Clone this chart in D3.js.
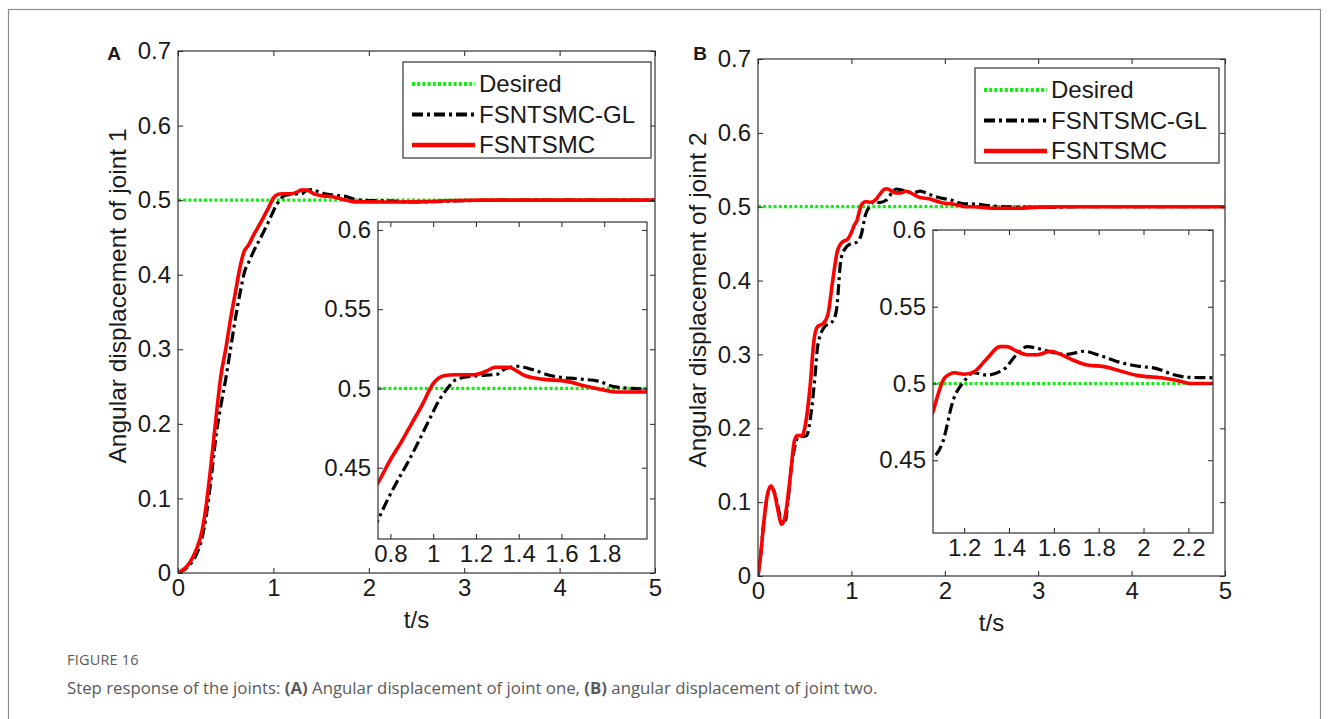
<!DOCTYPE html>
<html>
<head>
<meta charset="utf-8">
<script src="https://cdn.jsdelivr.net/npm/d3@7"></script>
<style>
  body { margin: 0; background: #fff; }
  svg text { font-family: "Liberation Sans", Arial, sans-serif; fill: #1a1a1a; }
  .caption text { font-family: "Open Sans", "Noto Sans", sans-serif; fill: #5a5a5a; }
</style>
</head>
<body>
<div id="chart-container"></div>
<script>
// ---- data ----
const legendLabels = ["Desired", "FSNTSMC-GL", "FSNTSMC"];
const desiredValue = 0.5;

// joint 1, [t, angle]
const joint1Gl = [[0,0],[0.05,0.003],[0.1,0.008],[0.15,0.015],[0.2,0.027],[0.25,0.046],[0.3,0.08],[0.35,0.13],[0.4,0.185],[0.45,0.225],[0.5,0.26],[0.55,0.3],[0.6,0.34],[0.65,0.375],[0.7,0.405],[0.742,0.417],[0.784,0.429],[0.83,0.441],[0.878,0.4525],[0.93,0.466],[0.988,0.482],[1.03,0.493],[1.059,0.4987],[1.113,0.506],[1.207,0.508],[1.302,0.509],[1.333,0.512],[1.396,0.514],[1.46,0.512],[1.553,0.508],[1.678,0.506],[1.772,0.5046],[1.85,0.501],[2.0,0.4995],[2.2,0.499],[2.5,0.4975],[2.8,0.4985],[3.1,0.4995],[3.5,0.5],[5,0.5]];
const joint1Fs = [[0,0],[0.05,0.004],[0.1,0.01],[0.15,0.02],[0.2,0.034],[0.25,0.055],[0.3,0.095],[0.35,0.15],[0.4,0.21],[0.45,0.265],[0.5,0.3],[0.55,0.34],[0.6,0.375],[0.65,0.41],[0.69,0.43],[0.74,0.44],[0.8,0.455],[0.85,0.466],[0.9,0.478],[0.95,0.49],[1.0,0.503],[1.05,0.508],[1.1,0.5086],[1.19,0.5086],[1.25,0.511],[1.29,0.5134],[1.35,0.5134],[1.43,0.508],[1.52,0.5057],[1.62,0.5046],[1.71,0.5015],[1.79,0.4992],[1.86,0.4977],[2.0,0.4977],[2.3,0.4975],[2.6,0.498],[2.9,0.4995],[3.2,0.5],[5,0.5]];

// joint 2, [t, angle]
const joint2Gl = [[0,0],[0.03,0.03],[0.06,0.07],[0.1,0.108],[0.14,0.12],[0.18,0.112],[0.22,0.09],[0.26,0.072],[0.29,0.073],[0.32,0.1],[0.36,0.15],[0.4,0.178],[0.43,0.188],[0.52,0.19],[0.57,0.222],[0.61,0.27],[0.64,0.312],[0.71,0.337],[0.8,0.345],[0.84,0.36],[0.89,0.43],[0.95,0.446],[1.0,0.45],[1.061,0.452],[1.105,0.462],[1.15,0.4887],[1.2,0.5015],[1.24,0.507],[1.3,0.5055],[1.375,0.509],[1.435,0.519],[1.48,0.524],[1.54,0.5224],[1.6,0.52],[1.66,0.519],[1.735,0.521],[1.81,0.518],[1.9,0.5136],[1.99,0.511],[2.05,0.51],[2.14,0.5055],[2.2,0.504],[2.31,0.5037],[2.5,0.501],[2.8,0.4995],[3.1,0.499],[3.4,0.5],[5,0.5]];
const joint2Fs = [[0,0],[0.03,0.03],[0.06,0.07],[0.1,0.11],[0.14,0.122],[0.18,0.11],[0.22,0.085],[0.25,0.07],[0.28,0.075],[0.3,0.088],[0.35,0.14],[0.39,0.183],[0.42,0.19],[0.47,0.19],[0.52,0.215],[0.56,0.26],[0.6,0.32],[0.64,0.338],[0.7,0.342],[0.75,0.355],[0.8,0.4],[0.85,0.44],[0.9,0.452],[0.96,0.456],[1.0,0.465],[1.03,0.475],[1.061,0.4817],[1.083,0.4927],[1.113,0.5037],[1.158,0.507],[1.2,0.506],[1.248,0.508],[1.3,0.516],[1.36,0.524],[1.39,0.524],[1.435,0.521],[1.48,0.5187],[1.525,0.5187],[1.586,0.521],[1.63,0.519],[1.69,0.515],[1.75,0.512],[1.824,0.511],[1.9,0.508],[1.97,0.5053],[2.08,0.5037],[2.165,0.5015],[2.21,0.5],[2.31,0.5],[2.5,0.498],[2.8,0.498],[3.0,0.4995],[3.3,0.5],[5,0.5]];

// tick values
const mainXTicks = [0, 1, 2, 3, 4, 5];
const mainYTicks = [0, 0.1, 0.2, 0.3, 0.4, 0.5, 0.6, 0.7];
const inset1XTicks = [0.8, 1, 1.2, 1.4, 1.6, 1.8];
const inset2XTicks = [1.2, 1.4, 1.6, 1.8, 2, 2.2];
const insetYTicks = [0.45, 0.5, 0.55, 0.6];

// ---- layout ----
const width = 1330, height = 719;
const svg = d3.select("#chart-container").append("svg")
  .attr("width", width).attr("height", height);

// outer figure frame
svg.append("rect")
  .attr("x", 8.5).attr("y", 9.5)
  .attr("width", 1312).attr("height", 730)
  .attr("fill", "none").attr("stroke", "#8c8c8c").attr("stroke-width", 1.2);

const panels = [
  {
    tag: "A", ylabel: "Angular displacement of joint 1",
    gl: joint1Gl, fs: joint1Fs,
    main: { left: 178, right: 655, top: 51, bottom: 573 },
    inset: { left: 378, right: 647, top: 222, bottom: 539, xd: [0.742, 2.0], yd: [0.405, 0.605], xt: inset1XTicks },
    legend: { x: 403, y: 62, w: 248, h: 96 },
    tagPos: [114, 53], ylabelPos: [117, 296]
  },
  {
    tag: "B", ylabel: "Angular displacement of joint 2",
    gl: joint2Gl, fs: joint2Fs,
    main: { left: 758, right: 1225, top: 59, bottom: 576 },
    inset: { left: 933, right: 1213, top: 230, bottom: 533, xd: [1.061, 2.31], yd: [0.4026, 0.6], xt: inset2XTicks },
    legend: { x: 975, y: 68, w: 244, h: 95 },
    tagPos: [700, 53], ylabelPos: [697, 300]
  }
];

const styles = [
  { color: "#11ee11", width: 3.2, dash: "3,2.2" },
  { color: "#000000", width: 3.2, dash: "11,4,3,4" },
  { color: "#ff0000", width: 3.6, dash: null }
];

const fmt = d3.format("~g");
const tickFont = "24px";

function drawAxes(g, x, y, xTicks, yTicks, clipId, series) {
  const [x0, x1] = x.range();
  const [y0, y1] = y.range();
  // white background (inset covers main plot)
  g.append("rect").attr("x", x0).attr("y", y1).attr("width", x1 - x0).attr("height", y0 - y1)
    .attr("fill", "#fff");

  g.append("defs").append("clipPath").attr("id", clipId)
    .append("rect").attr("x", x0).attr("y", y1).attr("width", x1 - x0).attr("height", y0 - y1);

  const lines = g.append("g").attr("clip-path", `url(#${clipId})`);
  const line = d3.line().x((d) => x(d[0])).y((d) => y(d[1])).curve(d3.curveMonotoneX);

  // desired
  lines.append("line")
    .attr("x1", x0).attr("x2", x1).attr("y1", y(desiredValue)).attr("y2", y(desiredValue))
    .attr("stroke", styles[0].color).attr("stroke-width", styles[0].width)
    .attr("stroke-dasharray", styles[0].dash);
  series.forEach((s, i) => {
    const st = styles[i + 1];
    lines.append("path").datum(s)
      .attr("fill", "none")
      .attr("stroke", st.color)
      .attr("stroke-width", st.width)
      .attr("stroke-linejoin", "round")
      .attr("stroke-dasharray", st.dash)
      .attr("d", line);
  });

  // inward ticks on all four sides
  const axStyle = (sel) => {
    sel.select(".domain").remove();
    sel.selectAll(".tick line").attr("stroke", "#222");
    sel.selectAll(".tick text").style("font-size", tickFont).attr("fill", "#1a1a1a");
  };
  g.append("g").attr("transform", `translate(0,${y0})`)
    .call(d3.axisBottom(x).tickValues(xTicks).tickFormat(fmt).tickSize(-5).tickPadding(6))
    .call(axStyle);
  g.append("g").attr("transform", `translate(0,${y1})`)
    .call(d3.axisTop(x).tickValues(xTicks).tickFormat("").tickSize(-5))
    .call(axStyle);
  g.append("g").attr("transform", `translate(${x0},0)`)
    .call(d3.axisLeft(y).tickValues(yTicks).tickFormat(fmt).tickSize(-5).tickPadding(7))
    .call(axStyle);
  g.append("g").attr("transform", `translate(${x1},0)`)
    .call(d3.axisRight(y).tickValues(yTicks).tickFormat("").tickSize(-5))
    .call(axStyle);

  g.append("rect").attr("x", x0).attr("y", y1).attr("width", x1 - x0).attr("height", y0 - y1)
    .attr("fill", "none").attr("stroke", "#333").attr("stroke-width", 1.2);
}

panels.forEach((p, pi) => {
  const g = svg.append("g");
  const m = p.main;
  const x = d3.scaleLinear().domain([0, 5]).range([m.left, m.right]);
  const y = d3.scaleLinear().domain([0, 0.7]).range([m.bottom, m.top]);
  drawAxes(g, x, y, mainXTicks, mainYTicks, "clip-main-" + pi, [p.gl, p.fs]);

  // axis titles
  g.append("text")
    .attr("x", (m.left + m.right) / 2).attr("y", m.bottom + 55)
    .attr("text-anchor", "middle").style("font-size", "24px").text("t/s");
  g.append("text")
    .attr("transform", `translate(${p.ylabelPos[0]},${p.ylabelPos[1]}) rotate(-90)`)
    .attr("text-anchor", "middle").attr("dy", "0.35em").style("font-size", "24.5px")
    .text(p.ylabel);
  g.append("text")
    .attr("x", p.tagPos[0]).attr("y", p.tagPos[1]).attr("dy", "0.35em")
    .attr("text-anchor", "middle").style("font-size", "19px").style("font-weight", "bold")
    .attr("fill", "#000").text(p.tag);

  // legend
  const L = p.legend;
  const lg = g.append("g");
  lg.append("rect").attr("x", L.x).attr("y", L.y).attr("width", L.w).attr("height", L.h)
    .attr("fill", "#fff").attr("stroke", "#333").attr("stroke-width", 1.2);
  legendLabels.forEach((lab, i) => {
    const ry = L.y + 22 + i * 30.5;
    const st = styles[i];
    lg.append("line")
      .attr("x1", L.x + 9).attr("x2", L.x + 72).attr("y1", ry).attr("y2", ry)
      .attr("stroke", st.color).attr("stroke-width", i === 2 ? 4.5 : 4)
      .attr("stroke-dasharray", st.dash);
    lg.append("text").attr("x", L.x + 76).attr("y", ry).attr("dy", "0.35em")
      .style("font-size", "24px").text(lab);
  });

  // inset zoom
  const I = p.inset;
  const xi = d3.scaleLinear().domain(I.xd).range([I.left, I.right]);
  const yi = d3.scaleLinear().domain(I.yd).range([I.bottom, I.top]);
  const gi = g.append("g");
  drawAxes(gi, xi, yi, I.xt, insetYTicks, "clip-inset-" + pi, [p.gl, p.fs]);
});

// caption
const cap = svg.append("g").attr("class", "caption");
cap.append("text").attr("x", 67).attr("y", 665)
  .style("font-size", "14.5px").style("letter-spacing", "0.2px").text("FIGURE 16");
const capLine = cap.append("text").attr("x", 67).attr("y", 694).style("font-size", "16.8px");
capLine.append("tspan").text("Step response of the joints: ");
capLine.append("tspan").style("font-weight", "bold").text("(A)");
capLine.append("tspan").text(" Angular displacement of joint one, ");
capLine.append("tspan").style("font-weight", "bold").text("(B)");
capLine.append("tspan").text(" angular displacement of joint two.");
</script>
</body>
</html>
